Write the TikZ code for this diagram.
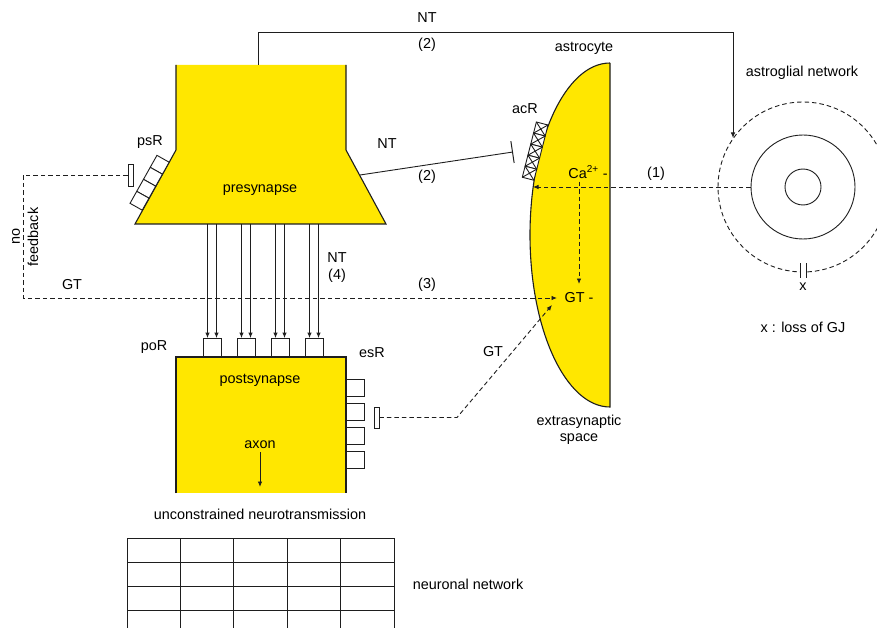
\documentclass[tikz,border=0pt]{standalone}
\usepackage{fontspec}
\setmainfont{Liberation Sans}
\usetikzlibrary{arrows.meta,positioning,calc}
\definecolor{cellY}{HTML}{FFE700}
\definecolor{lineK}{HTML}{1E1E1E}

\begin{document}
\begin{tikzpicture}[x=1pt,y=-1pt,font=\fontsize{14.4}{17}\selectfont,>={Latex[length=5.5pt,width=4.5pt]},
 wire/.style={lineK,line width=0.9pt},
 dashwire/.style={lineK,line width=0.9pt,dash pattern=on 4.5pt off 3pt},
 recbox/.style={draw=lineK,fill=white,line width=0.9pt,inner sep=0pt}]
\useasboundingbox (0,0) rectangle (877,628);
\clip (0,0) rectangle (877,628);
% cell bodies
\fill[cellY] (176,65) -- (346,65) -- (346,150) -- (386,224) -- (135,224) -- (176,150) -- cycle;
\draw[wire,line width=1.1pt] (176,65) -- (176,150) -- (135,224) -- (386,224) -- (346,150) -- (346,65);
\fill[cellY] (176,357) rectangle (346,493);
\draw[wire,line width=1.1pt] (176,493) -- (176,357) -- (346,357) -- (346,493);
\fill[cellY] (610,407) arc[start angle=90,end angle=270,x radius=80,y radius=172] -- cycle;
\draw[wire,line width=1.1pt] (610,63) -- (610,407) arc[start angle=90,end angle=270,x radius=80,y radius=172];
\node (pre) at (260,190) {presynapse};
\node (post) at (260,380) {postsynapse};
\node (axon) at (260,445) {axon};
\coordinate (axonEnd) at (260,487);
\draw[wire,->] (axon.south) -- (axonEnd);
% psR receptors on the slanted flank
\begin{scope}[shift={(176,150)},rotate=240.7]
 \foreach \t in {14,27.75,41.5,55.25}{
  \draw[wire,fill=white] (\t,0) rectangle (\t+13.75,14);
 }
\end{scope}
% acR receptors on the astrocyte
\begin{scope}[shift={(548,125)},rotate=255.7]
 \foreach \t in {0,11.4,22.8,34.2,45.6}{
  \draw[wire,fill=white] (\t,0) rectangle (\t+11.4,12);
  \draw[wire] (\t,0) -- (\t+11.4,12) (\t,12) -- (\t+11.4,0);
 }
\end{scope}
% poR receptors and NT release
\foreach \i/\cx in {1/212,2/246,3/280,4/314}{
 \node[recbox,minimum width=18pt,minimum height=18pt,anchor=south] (por\i) at (\cx,357) {};
 \foreach \d in {-4.5,4.5}
  \draw[wire,->] (\cx+\d,224) -- ($(por\i.north)+(\d,0)$);
}
% esR receptors
\foreach \i/\y in {1/379,2/403,3/427,4/451}{
 \node[recbox,minimum width=18pt,minimum height=17pt,anchor=north west] (esr\i) at (346,\y) {};
}
\node[recbox,minimum width=5pt,minimum height=22pt] (psBar) at (130.5,175) {};
\node[recbox,minimum width=5pt,minimum height=21pt] (esBar) at (376.5,417.5) {};
% astroglial network
\node[wire,draw,circle,minimum size=36pt,inner sep=0pt] (gliaIn) at (803,187) {};
\node[wire,draw,circle,minimum size=104pt,inner sep=0pt] (gliaMid) at (803,187) {};
\node[dashwire,draw,circle,minimum size=170pt,inner sep=0pt] (gliaOut) at (803,187) {};
\fill[white] (800.5,264) rectangle (805.5,278);
\draw[wire] (800,263) -- (800,278) (806,263) -- (806,278);
\node (gjX) at (803,287) {x};
\node (gjNote) at (803,327) {x : loss of GJ};
\node (glia) at (802,73) {astroglial network};
% labels
\node (ntA) at (427,18) {NT};
\node (ntAn) at (427,45) {(2)};
\node (astro) at (584,48) {astrocyte};
\node (psr) at (150,142) {psR};
\node (ntB) at (387,144) {NT};
\node (ntBn) at (427,177) {(2)};
\node (acr) at (525,109) {acR};
\node (ca) at (588,172) {Ca\textsuperscript{2+} -};
\node (one) at (656,174) {(1)};
\node[rotate=90] (noFb) at (16,236) {no};
\node[rotate=90] (fb) at (33,237) {feedback};
\node (gtL) at (72,285) {GT};
\node (ntC) at (337,258) {NT};
\node (ntCn) at (337,276) {(4)};
\node (three) at (427,285) {(3)};
\node (gtA) at (579,298) {GT -};
\node (por) at (154,347) {poR};
\node (esr) at (372,353) {esR};
\node (gtR) at (493,352) {GT};
\node[align=center] (extra) at (579,430) {extrasynaptic\\[-1pt]space};
\node (unc) at (260,514) {unconstrained neurotransmission};
\node (net) at (468,584) {neuronal network};
% connectors
\coordinate (preTop) at (258,65);
\coordinate (ntCorner) at (258,32);
\draw[wire,->] (preTop) -- (ntCorner) -| (gliaOut.145);
\coordinate (preFlank) at (360,175);
\coordinate (acrTip) at (513,152);
\draw[wire,-{Bar[width=22pt,line width=1pt]}] (preFlank) -- (acrTip);
\coordinate (astroEdge) at (533,187);
\draw[dashwire,->] (gliaMid.west) -- (astroEdge);
\coordinate (gtTop) at (579,284);
\draw[dashwire,->] (ca.south -| gtA) -- (gtTop);
\coordinate (fbCorner) at (23,298);
\coordinate (gtLeft) at (557,298);
\draw[dashwire,->] (psBar.west) -| (fbCorner) -- (gtLeft);
\coordinate (gtBend) at (457,417.5);
\coordinate (gtLow) at (552,305);
\draw[dashwire,->] (esBar.east) -- (gtBend) -- (gtLow);
% neuronal network grid
\foreach \x in {127,180.4,233.8,287.2,340.6,394}
 \draw[wire] (\x,538) -- (\x,630);
\foreach \y in {538,562,586.5,610.5}
 \draw[wire] (127,\y) -- (394,\y);
\end{tikzpicture}
\end{document}
